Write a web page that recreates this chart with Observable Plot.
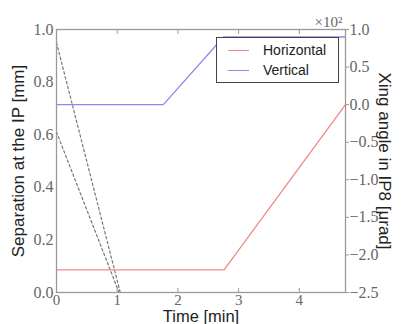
<!DOCTYPE html>
<html>
<head>
<meta charset="utf-8">
<script src="https://cdn.jsdelivr.net/npm/d3@7"></script>
<script src="https://cdn.jsdelivr.net/npm/@observablehq/plot@0.6"></script>
<style>
  body { margin: 0; background: #fff; }
  #wrap { position: relative; width: 408px; height: 324px; }
  #legend { position: absolute; left: 216px; top: 37px; width: 121px; height: 44px;
    border: 1px solid #444; background: #fff; font-family: "Liberation Sans", Arial, sans-serif;
    font-size: 14px; color: #222; }
  .row { position: absolute; left: 0; height: 20px; }
  .sw { position: absolute; left: 11px; width: 21px; height: 0; border-top: 1.3px solid; top: 10px; }
  .lb { position: absolute; left: 46px; top: 2px; white-space: nowrap; }
</style>
</head>
<body>
<div id="wrap"></div>
<script>
// ---- data ----
const horizTime = [0, 2.76, 4.76];
const horizXing = [-2.2, -2.2, 0.0];        // ×10² μrad
const vertTime = [0, 1.76, 2.75, 4.76];
const vertXing = [0.0, 0.0, 0.9, 0.9];      // ×10² μrad
const sepATime = [0, 1.05];
const sepA = [0.95, 0.0];                   // mm
const sepBTime = [0, 1.03];
const sepB = [0.61, 0.0];                   // mm
const xTicks = [0, 1, 2, 3, 4];
const leftTicks = [0.0, 0.2, 0.4, 0.6, 0.8, 1.0];
const rightTicks = [1.0, 0.5, 0.0, -0.5, -1.0, -1.5, -2.0, -2.5];
const seriesNames = ["Horizontal", "Vertical"];
const seriesColors = ["#f08a8a", "#8a8af0"];

// right axis domain [-2.5, 1.0] mapped onto left [0, 1]
const rMin = -2.5, rMax = 1.0;
const toLeft = v => (v - rMin) / (rMax - rMin);
const fromLeft = d => d * (rMax - rMin) + rMin;

const pts = (xs, ys, conv = v => v) => xs.map((x, i) => ({x, y: conv(ys[i])}));
const horiz = pts(horizTime, horizXing, toLeft);
const vert = pts(vertTime, vertXing, toLeft);
const sA = pts(sepATime, sepA);
const sB = pts(sepBTime, sepB);

const serif = "'Liberation Serif', 'DejaVu Serif', serif";
const sans = "'Liberation Sans', Arial, sans-serif";
const fmtR = d => { const v = Math.round(fromLeft(d) * 10) / 10 + 0; return v.toFixed(1).replace("-", "\u2212"); };

const chart = Plot.plot({
  width: 408,
  height: 324,
  marginLeft: 56,
  marginRight: 63,
  marginTop: 29,
  marginBottom: 32,
  x: {domain: [0, 4.76]},
  y: {domain: [0, 1]},
  style: {background: "#fff", overflow: "visible"},
  marks: [
    Plot.line(sA, {x: "x", y: "y", stroke: "#777", strokeWidth: 1.2, strokeDasharray: "2.5,2.5"}),
    Plot.line(sB, {x: "x", y: "y", stroke: "#777", strokeWidth: 1.2, strokeDasharray: "2.5,2.5"}),
    Plot.line(horiz, {x: "x", y: "y", stroke: seriesColors[0], strokeWidth: 1.3}),
    Plot.line(vert, {x: "x", y: "y", stroke: seriesColors[1], strokeWidth: 1.3}),
    Plot.frame({stroke: "#9a9a9a", strokeWidth: 1.3}),
    Plot.axisX(xTicks, {anchor: "bottom", tickSize: -4, tickPadding: 6, tickFormat: d => String(d), fontFamily: serif, fontSize: 15, color: "#666", stroke: "#999", label: null}),
    Plot.axisX(xTicks.slice(1), {anchor: "top", tickSize: -4, tickFormat: () => "", stroke: "#999", label: null}),
    Plot.axisY(leftTicks, {anchor: "left", tickSize: 0, tickPadding: 3, tickFormat: d => d.toFixed(1), fontFamily: serif, fontSize: 16, color: "#666", label: null}),
    Plot.axisY(rightTicks.map(toLeft), {anchor: "right", tickSize: 3, tickPadding: 1, tickFormat: fmtR, fontFamily: serif, fontSize: 16, color: "#666", stroke: "#999", label: null}),
    Plot.text(["Time [min]"], {frameAnchor: "bottom", dy: 24, lineAnchor: "middle", fontFamily: sans, fontSize: 16.5, fill: "#222"}),
    Plot.text(["Separation at the IP [mm]"], {frameAnchor: "left", dx: -38, rotate: -90, textAnchor: "middle", lineAnchor: "middle", fontFamily: sans, fontSize: 17, fill: "#222"}),
    Plot.text(["Xing angle in IP8 [\u03bcrad]"], {frameAnchor: "right", dx: 39, rotate: 90, textAnchor: "middle", lineAnchor: "middle", fontFamily: sans, fontSize: 17, fill: "#222"}),
    Plot.text(["\u00d710\u00b2"], {frameAnchor: "top-right", dy: -13, dx: -3, textAnchor: "end", fontFamily: serif, fontSize: 15, fill: "#666"})
  ]
});

const wrap = document.getElementById("wrap");
wrap.appendChild(chart);
const legend = document.createElement("div");
legend.id = "legend";
seriesNames.forEach((name, i) => {
  const row = document.createElement("div");
  row.className = "row";
  row.style.top = (2 + i * 20) + "px";
  const sw = document.createElement("div");
  sw.className = "sw";
  sw.style.borderTopColor = seriesColors[i];
  const lb = document.createElement("div");
  lb.className = "lb";
  lb.textContent = name;
  row.appendChild(sw); row.appendChild(lb);
  legend.appendChild(row);
});
wrap.appendChild(legend);
</script>
</body>
</html>
